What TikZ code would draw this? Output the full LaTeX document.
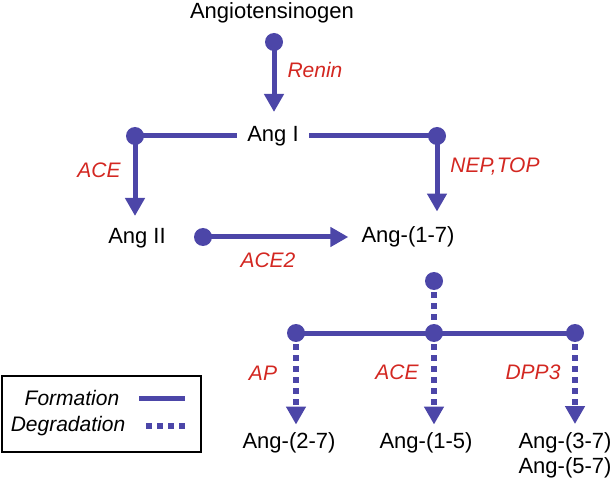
\documentclass[tikz,border=0pt]{standalone}
\usepackage{fontspec}
\setmainfont{Liberation Sans}
\usetikzlibrary{arrows.meta}
\definecolor{pathblue}{RGB}{76,70,168}
\definecolor{enzred}{RGB}{211,39,33}
\begin{document}
\begin{tikzpicture}[x=1pt, y=-1pt,
    peptide/.style={inner sep=0pt, font=\fontsize{22}{25}\selectfont},
    enzyme/.style={inner sep=0pt, text=enzred, font=\fontsize{21}{24}\selectfont\itshape},
    legendtext/.style={inner sep=0pt, font=\fontsize{21}{24}\selectfont\itshape},
    formation/.style={pathblue, line width=5pt},
    degradation/.style={pathblue, line width=5.5pt, dash pattern=on 5.5pt off 5.5pt},
    tip/.style={-{Triangle[length=18pt,width=19pt]}}]
    \useasboundingbox (0,0) rectangle (616,489);
    % peptides
    \node[peptide] (agt) at (272,13) {Angiotensinogen};
    \node[peptide] (ang1) at (273,136) {Ang I};
    \node[peptide] (ang2) at (137,238) {Ang II};
    \node[peptide] (a17) at (408,237) {Ang-(1-7)};
    \node[peptide] (a27) at (289,443) {Ang-(2-7)};
    \node[peptide] (a15) at (426,443) {Ang-(1-5)};
    \node[peptide, align=center] (a37) at (565,455) {Ang-(3-7)\\Ang-(5-7)};
    % junctions
    \coordinate (d0) at (274,42);
    \coordinate (dL) at (135,136);
    \coordinate (dR) at (437,136);
    \coordinate (dA) at (203,237);
    \coordinate (d17) at (434,281);
    \coordinate (bL) at (296,333);
    \coordinate (bM) at (434,333);
    \coordinate (bR) at (575,333);
    % formation
    \draw[formation, tip, shorten >=14pt] (d0) -- (d0 |- ang1.north);
    \draw[formation, shorten >=10pt] (dL) -- (ang1);
    \draw[formation, shorten >=10pt] (dR) -- (ang1);
    \draw[formation, tip, shorten >=12pt] (dL) -- (dL |- ang2.north);
    \draw[formation, tip, shorten >=15pt] (dR) -- (dR |- a17.north);
    \draw[formation, tip, shorten >=13pt] (dA) -- (a17.west);
    % degradation
    \draw[degradation] (d17) -- (bM);
    \draw[formation] (bL) -- (bR);
    \draw[degradation, tip, shorten >=8pt] (bL) -- (bL |- a27.north);
    \draw[degradation, tip, shorten >=8pt] (bM) -- (bM |- a15.north);
    \draw[degradation, tip, shorten >=8pt] (bR) -- (bR |- a37.north);
    \foreach \d in {d0,dL,dR,dA,d17,bL,bM,bR}
        \fill[pathblue] (\d) circle (9pt);
    % enzymes
    \node[enzyme] (renin) at (315,70) {Renin};
    \node[enzyme] (ace) at (99,170) {ACE};
    \node[enzyme] (neptop) at (495,167) {NEP,TOP};
    \node[enzyme] (ace2) at (268,260) {ACE2};
    \node[enzyme] (ap) at (263,373) {AP};
    \node[enzyme] (aceb) at (397,372) {ACE};
    \node[enzyme] (dpp3) at (533,372) {DPP3};
    % legend
    \draw[line width=2.3pt] (2,376) rectangle (201,452);
    \node[legendtext] (lform) at (72,398) {Formation};
    \node[legendtext] (ldeg) at (68,426) {Degradation};
    \coordinate (lformend) at (185,398);
    \coordinate (ldegend) at (185,426);
    \draw[formation, shorten <=20pt] (lform) -- (lformend);
    \draw[degradation, shorten <=21pt] (ldeg) -- (ldegend);
\end{tikzpicture}
\end{document}
